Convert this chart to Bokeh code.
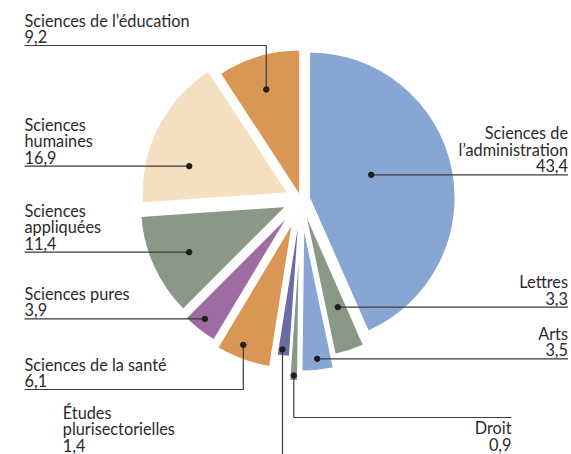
import math
from bokeh.plotting import figure
from bokeh.models import Range1d, ColumnDataSource
from bokeh.core.properties import value
from bokeh.embed import file_html
from bokeh.resources import INLINE

# ---------------- data ----------------
categories = [
    "Sciences de\nl’administration",
    "Lettres",
    "Arts",
    "Droit",
    "Études\nplurisectorielles",
    "Sciences de la santé",
    "Sciences pures",
    "Sciences\nappliquées",
    "Sciences\nhumaines",
    "Sciences de l’éducation",
]
shares = [43.4, 3.3, 3.5, 0.9, 1.4, 6.1, 3.9, 11.4, 16.9, 9.2]

# ---------------- style ----------------
colors = ["#87a6d4", "#8a9986", "#87a6d4", "#8a9986", "#6b6ba6",
          "#d99655", "#a06ba3", "#8a9986", "#f4dfc0", "#d99655"]
explode = [8.5, 12.7, 25.8, 35.5, 11.5, 24.4, 19.5, 16.1, 14.5, 3.8]
dot_t = [0.446, 0.40, 0.48, 0.5, 0.62, 0.59, 0.57, 0.479, 0.315, 0.47]
dot_r = [66.0, 101.1, 134.3, 140.6, 139.6, 132.0, 133.8, 107.5, 102.4, 111.6]
# label modes: "R" horizontal to right, "L" horizontal to left,
# "LE" elbow then left, "RE" elbow down then right, "V" vertical only
label_mode = ["R", "R", "R", "RE", "V", "LE", "L", "L", "L", "LE"]
elbow_y = [None, None, None, 417.0, 460.0, 389.0, None, None, None, 45.0]
elbow_x = [None, None, None, 511.0, None, 24.0, None, None, None, 24.0]

CX, CY, R = 300.5, 199.0, 146.0
LEFT_X, RIGHT_X = 24.0, 567.5
LINE_STEP, GAP = 16.5, 4.5
TEXT_SHIFT = 4.5   # renderer places alphabetic baseline slightly low
FONT = "Lato"
FSIZE = "16.3px"
TXT = "#2b2b2b"

W, H = 571, 454

p = figure(width=W, height=H,
           x_range=Range1d(0, W),
           y_range=Range1d(-H, 0),
           output_backend="svg", toolbar_location=None,
           x_axis_location=None, y_axis_location=None, min_border=0)
p.grid.visible = False
p.outline_line_color = None
p.background_fill_color = "white"
p.border_fill_color = "white"

total = sum(shares)
starts, ends, mids = [], [], []
acc = 0.0
for v in shares:
    a0 = acc / total * 360.0
    acc += v
    a1 = acc / total * 360.0
    starts.append(a0); ends.append(a1); mids.append((a0 + a1) / 2)

# apex of each (exploded) slice in pixel coords (y down)
apex = []
for m, d in zip(mids, explode):
    r = math.radians(m)
    apex.append((CX + d * math.sin(r), CY - d * math.cos(r)))

src = ColumnDataSource(dict(
    x=[a[0] for a in apex],
    y=[-a[1] for a in apex],
    start=[math.pi / 2 - math.radians(a) for a in starts],
    end=[math.pi / 2 - math.radians(a) for a in ends],
    color=colors,
))
p.wedge(x="x", y="y", radius=R, start_angle="start", end_angle="end",
        direction="clock", fill_color="color", line_color="white",
        line_width=1.5, source=src)

# dots & leaders
dx, dy, lxs, lys = [], [], [], []
tx, ty, tt, ta = [], [], [], []


def put(x, base, s, align):
    tx.append(x)
    ty.append(-(base - TEXT_SHIFT))
    tt.append(s)
    ta.append(align)


for i, cat in enumerate(categories):
    th = math.radians(starts[i] + dot_t[i] * (ends[i] - starts[i]))
    px = apex[i][0] + dot_r[i] * math.sin(th)
    py = apex[i][1] - dot_r[i] * math.cos(th)
    dx.append(px); dy.append(-py)
    lines = cat.split("\n") + [f"{shares[i]:.1f}".replace(".", ",")]
    n = len(lines)
    mode = label_mode[i]
    if mode in ("R", "L"):
        ex = RIGHT_X if mode == "R" else LEFT_X
        lxs.append([px, ex]); lys.append([-py, -py])
        base_last = py - GAP
        for k, s in enumerate(lines):
            put(ex, base_last - (n - 1 - k) * LINE_STEP, s,
                "right" if mode == "R" else "left")
    elif mode == "LE":
        ey, ex = elbow_y[i], elbow_x[i]
        lxs.append([px, px, ex]); lys.append([-py, -ey, -ey])
        base_last = ey - GAP
        for k, s in enumerate(lines):
            put(ex, base_last - (n - 1 - k) * LINE_STEP, s, "left")
    elif mode == "RE":
        ey, ex = elbow_y[i], elbow_x[i]
        lxs.append([px, px, ex]); lys.append([-py, -ey, -ey])
        base_first = ey + 14.5
        for k, s in enumerate(lines):
            put(ex, base_first + k * LINE_STEP, s, "right")
    else:  # vertical
        ey = elbow_y[i]
        lxs.append([px, px]); lys.append([-py, -ey])
        base_first = 416.0
        for k, s in enumerate(lines):
            put(62.3, base_first + k * LINE_STEP, s, "left")

p.multi_line(xs=lxs, ys=lys, line_color="#3a3a3a", line_width=1.2)
p.scatter(x=dx, y=dy, marker="circle", size=5.5, fill_color="#1f1f1f",
          line_color="#1f1f1f")
p.text(x=tx, y=ty, text=tt, text_align=ta, text_baseline="alphabetic",
       text_font=value(FONT), text_font_size=FSIZE, text_color=TXT)

open("out.html", "w").write(file_html(p, INLINE))
